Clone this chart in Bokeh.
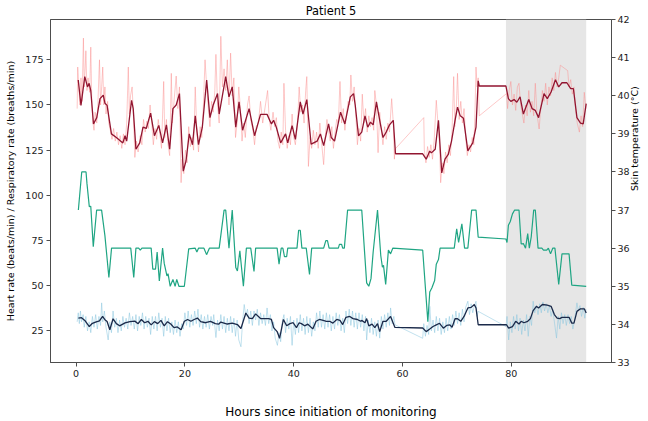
import math
from bokeh.plotting import figure
from bokeh.models import Range1d, LinearAxis, BoxAnnotation, FixedTicker
from bokeh.embed import file_html
from bokeh.resources import INLINE

# ---------------- data ----------------
title_text = "Patient 5"
x_label = "Hours since initiation of monitoring"
left_label = "Heart rate (beats/min) / Respiratory rate (breaths/min)"
right_label = "Skin temperature (°C)"
x_ticks = [0, 20, 40, 60, 80]
left_ticks = [25, 50, 75, 100, 125, 150, 175]
right_ticks = [33, 34, 35, 36, 37, 38, 39, 40, 41, 42]
x_limits = (-4.7, 98.4)
left_limits = (7.5, 197.3)
right_limits = (33, 42)
shaded_start = 79.0
shaded_end = 93.75

# heart rate, smoothed (hours, beats/min)
hr_smooth = [
    (0.4, 163.8), (0.9, 149.8), (1.6, 165.7), (2.1, 160), (2.4, 162), (2.7, 158),
    (3.2, 139.5), (3.8, 143), (4.4, 153.5), (5.0, 155.4), (5.3, 151), (5.7, 149.8),
    (6.5, 134), (7.4, 132), (8.6, 129), (9.0, 133), (9.3, 130), (10.2, 152.6),
    (10.5, 148), (11.0, 125.5), (11.7, 129), (12.3, 137.7), (12.9, 137), (13.7, 145.5),
    (14.4, 133), (15.2, 138.7), (15.9, 129), (16.6, 139), (17.2, 125.5), (17.8, 148),
    (18.4, 150), (19.0, 156.3), (19.7, 113.4), (20.2, 119), (20.8, 134), (21.4, 128),
    (21.9, 144), (22.5, 128), (23.2, 137.7), (24.0, 163.8), (24.6, 143), (25.2, 150),
    (26.0, 156.3), (26.3, 145), (27.5, 165.7), (28.1, 154.5), (28.7, 160), (29.35, 137.7),
    (29.95, 151.7), (30.6, 136), (31.8, 148), (32.8, 133), (33.9, 144.8), (35.1, 144.8),
    (35.9, 139.5), (36.3, 141.5), (36.8, 137.7), (37.6, 129), (38.5, 134), (38.9, 129),
    (39.7, 138.6), (40.3, 131), (41.2, 151.7), (41.7, 145), (42.4, 153), (43.2, 128.3),
    (44.3, 130), (44.9, 134), (45.5, 127.5), (46.4, 139.5), (46.9, 132), (47.5, 130),
    (48.6, 146), (49.4, 139.5), (50.4, 154.5), (51.0, 156.3), (51.3, 150), (51.9, 133),
    (52.5, 135), (53.1, 144), (53.6, 137.7), (54.1, 140.5), (54.6, 139), (55.2, 151.7),
    (55.8, 141.5), (56.4, 132), (57.0, 135), (57.6, 139), (58.3, 141.5), (58.7, 123),
    (63.7, 123), (64.35, 120), (65.0, 124.5), (65.3, 123.5), (66.0, 125.5), (66.6, 141.5),
    (67.2, 112.4), (67.8, 120), (68.4, 122.6), (69.0, 130), (69.65, 141.5), (70.1, 148.8),
    (70.6, 144), (71.2, 142.6), (72.0, 124.6), (72.9, 129), (73.5, 137.7), (73.9, 163.4),
    (74.1, 160.5), (79.0, 160.5), (79.45, 153.5), (79.9, 152), (80.5, 153), (81.0, 151.5),
    (81.6, 154.5), (82.2, 145), (83.2, 153), (83.8, 148), (84.4, 147), (85.0, 143),
    (86.0, 156.3), (86.6, 153.5), (87.3, 157.2), (88.1, 164), (88.7, 160), (89.3, 162.3),
    (90.2, 162.3), (90.9, 159), (91.4, 159), (92.05, 143), (92.7, 140), (93.2, 139.5),
    (93.75, 150.7),
]

# heart rate, raw (hours, beats/min)
hr_raw = [
    (0.2, 148), (0.3, 171), (0.5, 160), (0.7, 150), (0.9, 165), (1.1, 152), (1.35, 187),
    (1.5, 160), (1.7, 172), (1.8, 180), (2.0, 158), (2.2, 165), (2.5, 157), (2.7, 182),
    (2.9, 150), (3.1, 140), (3.3, 136), (3.5, 146), (3.8, 140), (4.0, 150), (4.3, 175),
    (4.5, 150), (4.7, 160), (4.9, 171), (5.1, 150), (5.3, 160), (5.5, 145), (5.8, 152),
    (6.0, 140), (6.3, 136), (6.6, 131), (6.9, 137), (7.2, 130), (7.5, 135), (7.8, 128),
    (8.1, 133), (8.4, 126), (8.7, 134), (9.0, 128), (9.3, 140), (9.6, 171), (9.8, 145),
    (10.0, 155), (10.3, 160), (10.6, 140), (10.8, 121), (11.1, 130), (11.4, 124), (11.8, 133),
    (12.1, 128), (12.4, 142), (12.7, 135), (13.0, 141), (13.3, 137), (13.6, 150), (13.9, 140),
    (14.2, 128), (14.5, 137), (14.8, 131), (15.1, 142), (15.4, 134), (15.7, 126), (16.1, 163),
    (16.3, 132), (16.6, 142), (16.9, 128), (17.2, 122), (17.5, 167.5), (17.7, 140), (18.0, 152),
    (18.4, 166), (18.7, 148), (19.0, 160), (19.3, 107), (19.5, 120), (19.8, 112), (20.1, 125),
    (20.4, 118), (20.7, 138), (21.0, 127), (21.3, 132), (21.6, 125), (21.9, 160), (22.2, 135),
    (22.5, 124), (22.8, 138), (23.1, 132), (23.4, 150), (23.7, 175), (24.0, 160), (24.3, 148),
    (24.6, 138), (24.9, 152), (25.2, 146), (25.5, 158), (25.7, 178), (26.0, 150), (26.3, 140),
    (26.6, 188), (26.9, 160), (27.2, 170), (27.5, 158), (27.8, 175), (28.1, 150), (28.4, 178.7),
    (28.7, 155), (29.0, 165), (29.3, 132), (29.6, 140), (29.9, 160), (30.2, 148), (30.5, 130),
    (30.8, 140), (31.1, 132), (31.5, 150), (31.8, 155), (32.1, 142), (32.5, 136), (32.8, 128),
    (33.1, 138), (33.5, 140), (33.9, 152), (34.3, 140), (34.6, 146), (35.2, 158), (35.5, 142),
    (35.8, 136), (36.2, 146), (36.5, 138), (36.8, 143), (37.1, 130), (37.4, 126), (37.7, 135),
    (38.0, 128), (38.2, 162), (38.5, 136), (38.8, 126), (39.1, 133), (39.4, 128), (39.7, 145),
    (40.0, 132), (40.3, 128), (40.7, 140), (41.0, 160), (41.3, 146), (41.6, 150), (41.9, 140),
    (42.2, 158), (42.4, 165.7), (42.7, 116), (43.0, 132), (43.3, 126), (43.6, 136), (43.9, 128),
    (44.2, 135), (44.5, 126), (44.8, 140), (45.1, 130), (45.5, 117), (45.8, 133), (46.1, 142),
    (46.4, 136), (46.7, 130), (47.0, 138), (47.3, 126), (47.6, 135), (47.9, 142), (48.2, 140),
    (48.5, 163), (48.8, 140), (49.1, 148), (49.4, 136), (49.7, 145), (50.0, 152), (50.3, 150),
    (50.5, 166.6), (50.8, 152), (51.1, 160), (51.4, 145), (51.7, 128), (52.0, 137), (52.3, 130),
    (52.6, 156), (52.9, 140), (53.2, 148), (53.5, 135), (53.8, 144), (54.1, 138), (54.4, 143),
    (54.7, 136), (54.9, 158), (55.2, 150), (55.5, 123.6), (55.8, 146), (56.1, 136), (56.4, 128),
    (56.7, 138), (57.0, 131), (57.3, 140), (57.6, 135), (58.0, 153.5), (58.3, 140), (58.5, 120),
    (58.6, 125.5), (63.9, 143), (64.0, 125), (64.3, 118), (64.6, 127), (64.9, 121), (65.2, 128),
    (65.5, 120), (65.8, 130), (66.2, 152.6), (66.5, 140), (66.8, 128), (67.0, 107), (67.3, 118),
    (67.6, 112), (67.9, 124), (68.2, 118), (68.5, 128), (68.8, 122), (69.1, 136), (69.4, 165.7),
    (69.6, 138), (69.9, 150), (70.1, 167.5), (70.4, 142), (70.7, 152), (71.0, 140), (71.3, 148),
    (71.6, 132), (71.9, 122), (72.2, 128), (72.5, 124), (72.8, 132), (73.1, 128), (73.3, 145),
    (73.5, 171), (73.7, 160), (73.9, 165), (74.1, 144), (79.1, 156.3), (79.3, 148), (79.6, 158),
    (79.9, 163), (80.2, 150), (80.5, 156), (80.8, 147), (81.1, 160), (81.4, 162), (81.7, 150),
    (82.0, 145), (82.3, 140), (82.6, 150), (82.9, 144), (83.2, 158), (83.5, 146), (83.8, 152),
    (84.1, 144), (84.4, 162), (84.7, 145), (85.1, 136.7), (85.4, 148), (85.7, 158), (86.0, 152),
    (86.3, 162), (86.6, 150), (86.9, 160), (87.2, 155), (87.5, 165), (87.8, 158), (88.1, 168),
    (88.4, 160), (88.7, 165), (89.0, 172), (90.35, 169), (90.6, 160), (90.9, 164), (91.2, 156),
    (91.5, 160), (91.8, 148), (92.1, 140), (92.5, 135), (92.8, 144), (93.1, 138), (93.4, 157),
    (93.7, 148),
]

# skin temperature (hours, °C)
temp = [
    (0.42, 37.0), (1.04, 38.0), (1.83, 38.0), (2.0, 37.7), (2.43, 37.09), (2.7, 37.1),
    (3.16, 36.04), (3.78, 37.0), (4.69, 37.0), (5.3, 36.33), (6.03, 35.23), (6.52, 36.0),
    (10.05, 36.0), (10.6, 35.23), (11.0, 36.0), (11.5, 36.0), (11.8, 35.95), (12.1, 36.0),
    (13.8, 36.0), (14.1, 35.45), (14.6, 35.45), (14.9, 35.9), (15.3, 35.14), (15.9, 36.0),
    (16.2, 35.6), (16.7, 35.27), (16.9, 35.33), (17.3, 35.0), (17.8, 35.18), (18.2, 35.0),
    (18.5, 35.18), (18.9, 35.0), (19.9, 35.0), (20.7, 35.98), (21.9, 36.0), (22.2, 35.9),
    (22.5, 36.0), (23.5, 36.0), (23.98, 35.83), (24.5, 36.0), (26.3, 36.0), (27.2, 37.0),
    (27.5, 37.0), (28.1, 36.0), (28.7, 37.0), (29.35, 35.49), (29.65, 35.4), (30.1, 35.93),
    (30.75, 35.0), (31.3, 36.0), (32.1, 36.0), (32.7, 35.39), (33.0, 36.0), (36.95, 36.0),
    (37.3, 35.58), (37.7, 36.0), (38.0, 36.0), (38.3, 35.78), (38.7, 35.78), (38.9, 36.0),
    (40.6, 36.0), (40.9, 36.47), (41.2, 36.47), (41.5, 36.0), (42.3, 36.0), (42.9, 35.31),
    (43.3, 36.0), (45.5, 36.0), (45.9, 36.2), (46.2, 36.2), (46.5, 36.0), (48.2, 36.0),
    (48.4, 36.1), (48.8, 36.1), (49.0, 36.0), (49.3, 36.0), (49.9, 37.0), (52.5, 37.0),
    (53.4, 35.09), (53.8, 35.0), (54.2, 35.2), (54.6, 35.9), (55.4, 37.0), (56.0, 35.8),
    (56.3, 35.5), (56.5, 35.55), (56.9, 35.05), (57.4, 35.95), (57.8, 35.85), (58.2, 36.0),
    (63.7, 35.95), (64.65, 34.07), (65.0, 34.85), (65.4, 34.96), (65.9, 35.15), (66.2, 35.58),
    (66.6, 35.7), (66.9, 36.0), (69.5, 36.0), (69.95, 36.51), (70.3, 36.15), (70.9, 36.64),
    (71.4, 36.0), (72.0, 36.0), (72.7, 37.0), (73.5, 37.0), (73.9, 36.29), (79.0, 36.24),
    (79.2, 36.15), (79.45, 36.6), (79.8, 36.7), (80.2, 36.9), (80.6, 37.0), (81.4, 37.0),
    (81.8, 36.11), (82.2, 36.12), (82.6, 36.0), (83.0, 36.38), (83.3, 36.0), (83.65, 36.3),
    (84.1, 37.0), (84.4, 37.0), (84.9, 36.0), (85.6, 36.0), (85.9, 35.95), (86.5, 35.95),
    (86.8, 36.0), (87.2, 35.85), (87.6, 36.0), (88.0, 36.0), (88.7, 35.05), (89.3, 35.85),
    (90.6, 35.85), (91.1, 35.03), (93.75, 35.0),
]

# respiratory rate, smoothed (hours, breaths/min)
rr_smooth = [
    (0.42, 32.1), (1.0, 32.3), (1.6, 30.8), (2.43, 27.4), (3.0, 29.2), (3.7, 30.0),
    (4.3, 30.5), (4.87, 33.0), (5.3, 31.2), (5.7, 30.2), (6.2, 25.6), (6.8, 31.7),
    (7.4, 29.0), (8.0, 27.8), (9.0, 29.4), (9.9, 30.1), (10.8, 30.4), (11.4, 29.0),
    (12.0, 31.3), (12.6, 29.5), (13.2, 30.3), (13.8, 28.3), (14.4, 30.1), (15.0, 29.0),
    (15.6, 30.8), (16.2, 27.8), (16.8, 30.1), (17.4, 28.8), (18.0, 26.8), (18.6, 27.2),
    (19.3, 25.6), (19.9, 30.3), (20.5, 31.3), (21.1, 30.3), (21.7, 31.3), (22.3, 32.1),
    (22.9, 30.1), (23.8, 29.5), (24.7, 30.3), (25.6, 29.0), (26.2, 28.7), (26.6, 29.9),
    (27.8, 28.8), (28.7, 29.3), (29.65, 28.5), (30.3, 26.3), (31.2, 34.9), (31.8, 32.1),
    (32.4, 31.8), (33.0, 34.4), (33.9, 31.8), (35.4, 31.8), (35.9, 31.3), (36.3, 26.8),
    (36.95, 24.6), (37.4, 20.9), (37.8, 26.8), (38.1, 31.3), (38.7, 27.8), (39.3, 29.0),
    (39.9, 29.5), (40.5, 26.8), (41.0, 29.5), (41.4, 29.0), (42.0, 27.8), (42.6, 28.7),
    (43.5, 26.1), (44.1, 30.3), (44.7, 31.3), (45.4, 30.8), (46.0, 30.3), (46.6, 30.3),
    (47.2, 29.3), (47.9, 31.3), (48.5, 30.8), (49.0, 28.5), (49.6, 32.5), (50.3, 33.0),
    (50.9, 31.8), (51.7, 31.3), (52.3, 30.3), (52.5, 30.8), (53.1, 29.5), (53.4, 31.8),
    (53.8, 27.8), (54.4, 28.7), (54.9, 26.8), (55.4, 29.0), (55.8, 24.6), (56.4, 30.3),
    (57.0, 30.3), (57.8, 33.0), (58.6, 26.9), (63.7, 26.6), (64.35, 24.6), (65.0, 26.0),
    (65.6, 27.4), (66.2, 28.3), (66.8, 29.2), (67.5, 26.5), (68.1, 28.0), (68.7, 28.3),
    (69.1, 27.0), (69.65, 31.7), (70.1, 31.7), (70.7, 30.3), (71.3, 33.0), (72.0, 37.7),
    (72.6, 38.0), (73.2, 39.6), (73.5, 37.7), (73.9, 28.4), (79.1, 28.4), (79.5, 26.5),
    (80.2, 27.4), (80.8, 30.3), (81.4, 28.8), (81.8, 30.3), (82.3, 29.5), (83.0, 30.3),
    (83.5, 31.8), (84.0, 36.2), (84.6, 38.6), (85.0, 37.7), (85.7, 39.6), (86.6, 39.2),
    (87.3, 38.6), (87.9, 34.0), (88.4, 32.1), (88.9, 31.8), (89.3, 32.5), (90.6, 32.5),
    (91.1, 29.3), (91.5, 29.3), (92.05, 35.8), (92.7, 37.2), (93.4, 37.2), (93.75, 34.9),
]

# respiratory rate, raw (hours, breaths/min)
rr_raw = [
    (0.2, 30), (0.4, 35), (0.6, 29), (0.8, 36), (1.0, 30), (1.3, 34), (1.5, 27), (1.8, 33),
    (2.1, 25), (2.4, 30), (2.7, 24), (3.0, 33), (3.3, 27), (3.6, 34), (3.9, 26), (4.2, 33),
    (4.5, 28), (4.7, 40.5), (4.9, 30), (5.2, 36), (5.5, 27), (5.9, 20), (6.2, 30), (6.5, 24),
    (6.8, 36), (7.1, 27), (7.4, 32), (7.7, 24), (8.0, 31), (8.3, 25), (8.6, 33), (8.9, 27),
    (9.2, 32), (9.5, 26), (9.8, 35), (10.1, 28), (10.4, 33), (10.7, 26), (11.0, 34), (11.3, 25),
    (11.6, 33), (11.9, 28), (12.2, 35), (12.5, 26), (12.8, 33), (13.1, 27), (13.4, 32), (13.7, 23),
    (14.0, 33), (14.3, 26), (14.6, 33), (14.9, 25), (15.2, 35), (15.5, 27), (15.8, 32), (16.1, 22),
    (16.4, 33), (16.7, 25), (17.0, 32), (17.3, 24), (17.6, 30), (17.9, 23), (18.2, 31), (18.5, 24),
    (18.8, 30), (19.1, 22), (19.4, 29), (19.7, 26), (20.0, 35), (20.3, 28), (20.6, 36), (20.9, 27),
    (21.2, 34), (21.5, 28), (21.8, 36), (22.1, 29), (22.4, 37), (22.7, 27), (23.0, 34), (23.3, 26),
    (23.6, 33), (23.9, 27), (24.2, 34), (24.5, 26), (24.8, 33), (25.1, 28), (25.3, 34), (25.7, 21.3),
    (26.0, 31), (26.3, 25), (26.6, 34), (26.9, 26), (27.2, 33), (27.5, 24), (27.8, 32), (28.1, 25),
    (28.4, 33), (28.7, 24), (29.0, 32), (29.3, 22), (29.6, 31), (29.9, 20), (30.3, 16.2), (30.6, 30),
    (30.9, 39.6), (31.2, 33), (31.5, 37), (31.8, 29), (32.1, 36), (32.4, 28), (32.7, 36), (33.0, 31),
    (33.3, 37), (33.6, 28), (33.9, 35), (34.2, 29), (34.5, 34), (34.8, 28), (35.1, 37.7), (35.4, 29),
    (35.7, 34), (36.0, 25), (36.3, 30), (36.6, 21), (37.0, 17), (37.3, 24), (37.6, 19), (37.9, 30),
    (38.2, 34), (38.5, 24), (38.8, 32), (39.1, 26), (39.4, 33), (39.7, 17), (40.0, 31), (40.3, 23),
    (40.6, 32), (40.9, 24), (41.2, 34), (41.5, 25), (41.8, 32), (42.1, 23), (42.4, 33), (42.7, 24),
    (43.0, 32), (43.3, 22), (43.6, 30), (43.9, 25), (44.2, 35), (44.5, 27), (44.8, 36), (45.1, 27),
    (45.4, 34), (45.7, 26), (46.0, 35), (46.3, 27), (46.6, 34), (46.9, 25), (47.2, 33), (47.5, 26),
    (47.8, 35), (48.1, 28), (48.4, 34), (48.7, 25), (49.0, 32), (49.3, 24), (49.6, 36), (49.9, 29),
    (50.2, 37), (50.5, 28), (50.8, 36), (51.1, 27), (51.4, 35), (51.7, 26), (52.0, 35), (52.3, 27),
    (52.6, 34), (52.9, 25), (53.2, 33), (53.4, 20), (53.7, 31), (54.0, 24), (54.3, 32), (54.6, 23),
    (54.9, 30), (55.2, 22), (55.5, 31), (55.8, 21), (56.1, 33), (56.4, 26), (56.7, 34), (57.0, 27),
    (57.3, 35), (57.6, 28), (57.8, 37.7), (58.1, 29), (58.4, 33), (58.6, 28.4), (63.7, 20.9),
    (63.9, 29), (64.2, 22), (64.5, 28), (64.8, 23), (65.0, 38.6), (65.3, 25), (65.6, 31), (65.9, 24),
    (66.2, 33), (66.5, 25), (66.8, 32), (67.1, 23), (67.4, 30), (67.7, 24), (68.0, 32), (68.3, 25),
    (68.6, 33), (68.9, 26), (69.2, 34), (69.5, 28), (69.8, 36), (70.1, 29), (70.4, 35), (70.7, 28),
    (71.0, 37), (71.3, 30), (71.6, 38), (72.0, 41.4), (72.3, 34), (72.6, 40), (72.9, 35), (73.2, 39),
    (73.5, 41.4), (73.7, 33), (73.9, 35.8), (79.0, 27.4), (79.2, 33), (79.5, 20), (79.8, 30),
    (80.1, 24), (80.4, 33), (80.7, 26), (81.0, 34), (81.3, 25), (81.6, 32), (81.9, 23), (82.2, 31),
    (82.5, 25), (82.8, 34), (83.1, 22), (83.4, 33), (83.7, 28), (84.0, 41.4), (84.3, 35), (84.6, 39),
    (84.9, 34), (85.2, 40), (85.5, 35), (85.8, 41), (86.1, 36), (86.4, 40), (86.7, 35), (87.0, 39),
    (87.3, 33), (87.6, 37), (87.9, 30), (88.3, 21), (88.6, 33), (88.9, 26), (89.2, 35), (89.5, 29),
    (89.8, 34), (90.1, 28), (90.4, 34), (90.7, 29), (91.0, 33), (91.3, 26), (91.6, 31), (92.05, 40.5),
    (92.3, 36), (92.6, 39), (92.9, 33), (93.2, 38), (93.5, 32), (93.7, 37),
]


def split(pairs):
    return [a for a, _ in pairs], [b for _, b in pairs]


FONT = "DejaVu Sans"
AX = "#4d4d4d"

p = figure(
    width=648, height=421,
    x_range=Range1d(*x_limits), y_range=Range1d(*left_limits),
    output_backend="svg", toolbar_location=None,
    title=title_text,
    min_border_left=50, min_border_right=0, min_border_top=0, min_border_bottom=0,
)
p.extra_y_ranges = {"temp": Range1d(*right_limits)}

p.background_fill_color = "white"
p.border_fill_color = "white"
p.outline_line_color = AX
p.outline_line_width = 1
p.xgrid.visible = False
p.ygrid.visible = False

p.title.align = "center"
p.title.text_font = FONT
p.title.text_font_size = "11.4px"
p.title.text_font_style = "normal"
p.title.text_color = "#000000"
p.title.standoff = 3

# shaded period
p.add_layout(BoxAnnotation(left=shaded_start, right=shaded_end, fill_color="#e6e6e6",
                           fill_alpha=1.0, line_alpha=0, level="underlay"))

# heart rate
t, v = split(hr_raw)
p.line(t, v, line_color="#fb8e8e", line_alpha=0.55, line_width=0.9)
t, v = split(hr_smooth)
p.line(t, v, line_color="#921530", line_width=1.3)

# skin temperature (right axis)
t, v = split(temp)
p.line(t, v, line_color="#1fa583", line_width=1.2, y_range_name="temp")

# respiratory rate
t, v = split(rr_raw)
p.line(t, v, line_color="#8cc8e0", line_alpha=0.6, line_width=0.9)
t, v = split(rr_smooth)
p.line(t, v, line_color="#1b2a4a", line_width=1.3)

right_axis = LinearAxis(y_range_name="temp")
p.add_layout(right_axis, "right")


def style_axis(ax, ticks):
    ax.ticker = FixedTicker(ticks=ticks)
    ax.minor_tick_line_color = None
    ax.major_tick_in = 0
    ax.major_tick_out = 4
    ax.major_tick_line_color = AX
    ax.axis_line_color = AX
    ax.major_label_text_font = FONT
    ax.major_label_text_font_size = "9.5px"
    ax.major_label_text_color = "#222222"
    ax.major_label_standoff = 3
    ax.axis_label_text_font = FONT
    ax.axis_label_text_font_style = "normal"
    ax.axis_label_text_color = "#000000"


style_axis(p.xaxis[0], x_ticks)
style_axis(p.yaxis[0], left_ticks)
style_axis(right_axis, right_ticks)

p.xaxis[0].axis_label = x_label
p.xaxis[0].axis_label_text_font_size = "12px"
p.xaxis[0].axis_label_standoff = 25

p.yaxis[0].axis_label = left_label
p.yaxis[0].axis_label_text_font_size = "9.5px"
p.yaxis[0].axis_label_standoff = 6

right_axis.major_label_standoff = 2
right_axis.axis_label = right_label
right_axis.axis_label_text_font_size = "9.5px"
right_axis.axis_label_standoff = 2
right_axis.axis_label_orientation = math.pi / 2

open("out.html", "w").write(file_html(p, INLINE))
